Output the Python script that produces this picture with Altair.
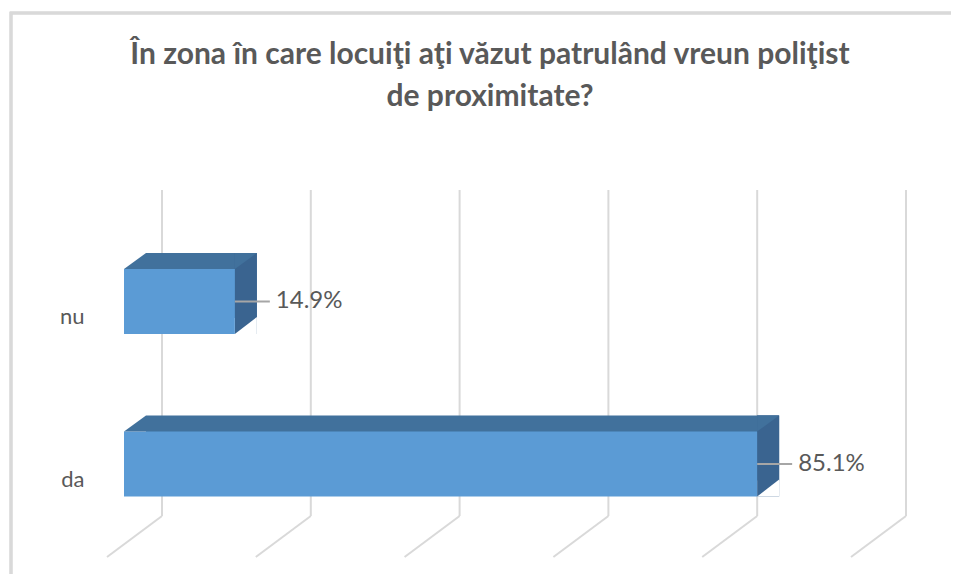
import altair as alt
import pandas as pd

# ---- data ----
categories = ["nu", "da"]
values = [14.9, 85.1]
labels = ["14.9%", "85.1%"]
ticks = [0, 20, 40, 60, 80, 100]

title_lines = ["În zona în care locuiţi aţi văzut patrulând vreun poliţist",
               "de proximitate?"]
title_row = [0, 1]

df = pd.DataFrame({"cat": categories, "v": values, "lab": labels, "zero": [0, 0]})
grid = pd.DataFrame({"t": ticks})
tdf = pd.DataFrame({"line": title_lines, "row": title_row})

FRONT = "#5b9bd5"
TOP = "#41719c"
SIDE = "#3a6490"
GRID = "#d9d9d9"
TXT = "#595959"
FONT = "Lato"

W, H = 744, 365.5
DX, DY = 22, 16          # bar depth
WX = 38                  # back wall offset

xs = alt.Scale(domain=[0, 100], range=[0, W], nice=False, zero=True)
ys = alt.Scale(domain=categories, paddingInner=0.6, paddingOuter=0.4246)

X = alt.X("v:Q", scale=xs, axis=None)
Y = alt.Y("cat:N", scale=ys, sort=categories,
          axis=alt.Axis(title=None, domain=False, ticks=False, labelPadding=40,
                        labelOffset=16, labelFontSize=22, labelFont=FONT,
                        labelColor=TXT))

base = alt.Chart(df)

# chart frame
frame = alt.Chart(grid).mark_rect(fill=None, stroke=GRID, strokeWidth=2.5).encode(
    x=alt.value(-113), x2=alt.value(W + 120),
    y=alt.value(-187), y2=alt.value(H + 40))

title = alt.Chart(tdf).mark_text(fontSize=30, font=FONT, fontWeight="bold", color=TXT,
                                 align="center", baseline="middle").encode(
    x=alt.value(366),
    y=alt.Y("row:Q", scale=alt.Scale(domain=[0, 1], range=[-145, -103], nice=False, zero=False),
            axis=None),
    text="line:N")

wall = alt.Chart(grid).mark_rule(color=GRID, strokeWidth=2, xOffset=WX, x2Offset=WX).encode(
    x=alt.X("t:Q", scale=xs, axis=None), y=alt.value(-10), y2=alt.value(316))
floor = alt.Chart(grid).mark_rule(color=GRID, strokeWidth=2, xOffset=WX, x2Offset=-17).encode(
    x=alt.X("t:Q", scale=xs, axis=None), x2="t:Q", y=alt.value(316), y2=alt.value(357))

back = base.mark_bar(color=TOP, xOffset=DX, x2Offset=DX, yOffset=-DY).encode(
    x=alt.X("zero:Q", scale=xs, axis=None), x2="v:Q", y=Y)
side = base.mark_bar(color=SIDE, x2Offset=DX, yOffset=-DY / 2, size=65 + DY).encode(
    x=X, x2="v:Q", y=Y)
front = base.mark_bar(color=FRONT).encode(x=alt.X("zero:Q", scale=xs, axis=None), x2="v:Q", y=Y)

tri_tl = base.mark_point(shape="M-1,0.727L1,-0.727L1,0.727Z", filled=True, fill=TOP,
                         opacity=1, size=484, strokeWidth=0, xOffset=11, yOffset=-40.5).encode(
    x=alt.X("zero:Q", scale=xs, axis=None), y=Y)
tri_tr = base.mark_point(shape="M-1,-0.727L1,-0.727L-1,0.727Z", filled=True, fill=TOP,
                         opacity=1, size=484, strokeWidth=0, xOffset=11, yOffset=-40.5).encode(
    x=X, y=Y)
tri_br = base.mark_point(shape="M1,-0.773L1,0.773L-1,0.773Z", filled=True, fill="white",
                         opacity=1, size=484, strokeWidth=0, xOffset=11, yOffset=24).encode(
    x=X, y=Y)

leader = base.mark_rule(color="#a6a6a6", strokeWidth=2, x2Offset=35).encode(
    x=X, x2="v:Q", y=Y)
text = base.mark_text(align="left", baseline="middle", dx=41, dy=0, fontSize=24,
                      font=FONT, color=TXT).encode(x=X, y=Y, text="lab:N")

bars = alt.layer(frame, wall, floor, back, side, front, tri_tl, tri_tr, tri_br, leader, text)

chart = alt.layer(bars, title).resolve_scale(y="independent").properties(
    width=W, height=H,
    background="white",
    autosize=alt.AutoSizeParams(type="none"),
    padding={"left": 116, "top": 192, "right": 83, "bottom": 8},
).configure_view(stroke=None)

chart.save("out.html", embed_options={"renderer": "svg", "actions": False})
